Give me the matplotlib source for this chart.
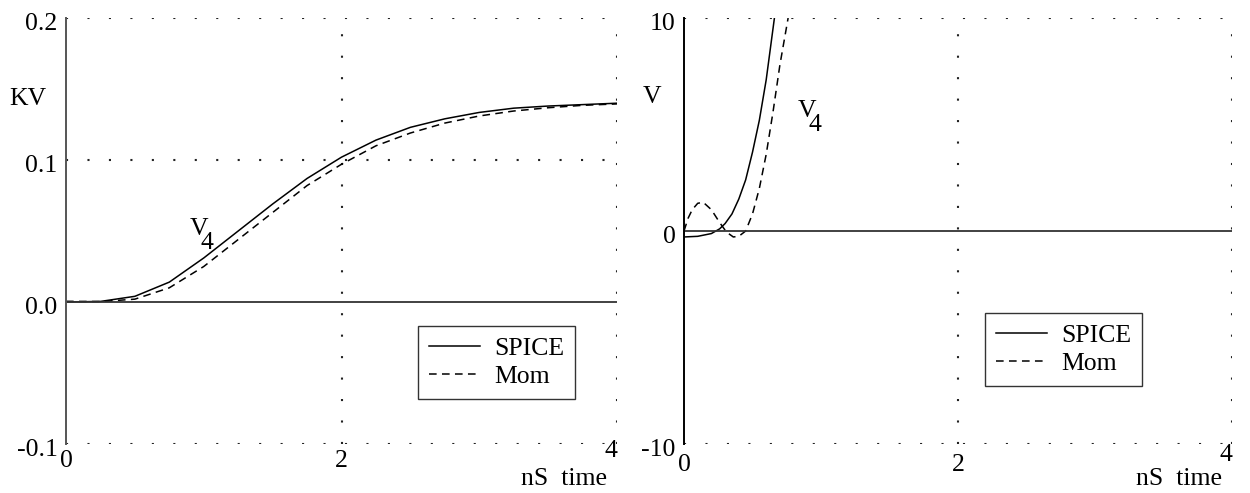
import matplotlib
matplotlib.use("Agg")
import matplotlib.pyplot as plt
from matplotlib.transforms import ScaledTranslation

plt.rcParams['font.family'] = ['Liberation Serif', 'DejaVu Serif']

# ---- data: left panel (KV vs nS) ----
t_left = [0, 0.25, 0.5, 0.75, 1.0, 1.25, 1.5, 1.75, 2.0, 2.25, 2.5, 2.75, 3.0, 3.25, 3.5, 3.75, 4.0]
spice_left = [0.0, 0.0004, 0.004, 0.014, 0.031, 0.050, 0.069, 0.087, 0.102, 0.114, 0.123, 0.129, 0.1335, 0.1365, 0.138, 0.139, 0.140]
mom_left = [0.0005, 0.0003, 0.002, 0.010, 0.025, 0.044, 0.063, 0.082, 0.097, 0.110, 0.119, 0.126, 0.131, 0.1345, 0.1368, 0.1385, 0.1395]

# ---- data: right panel (V vs nS) ----
t_spice_right = [0, 0.1, 0.2, 0.26, 0.3, 0.35, 0.4, 0.45, 0.5, 0.55, 0.6, 0.66]
spice_right = [-0.28, -0.25, -0.12, 0.1, 0.35, 0.8, 1.5, 2.4, 3.7, 5.2, 7.1, 10.0]
t_mom_right = [0, 0.03, 0.06, 0.1, 0.14, 0.2, 0.26, 0.31, 0.36, 0.4, 0.45, 0.5, 0.55, 0.6, 0.65, 0.7, 0.76]
mom_right = [0.0, 0.6, 1.0, 1.3, 1.35, 1.0, 0.4, -0.05, -0.28, -0.25, 0.0, 0.8, 2.0, 3.6, 5.6, 7.8, 10.0]

x_ticks = [0, 2, 4]
x_ticklabels = ['0', '2', '4']
left_yticks = [-0.1, 0.0, 0.1, 0.2]
left_yticklabels = ['-0.1', '0.0', '0.1', '0.2']
right_yticks = [-10, 0, 10]
right_yticklabels = ['-10', '0', '10']
legend_labels = ['SPICE', 'Mom']

FS = 18.5
fig = plt.figure(figsize=(12.5, 4.93), dpi=100)

def shift(txt, dx_px, dy_px):
    txt.set_transform(txt.get_transform() + ScaledTranslation(dx_px / 100, dy_px / 100, fig.dpi_scale_trans))

def setup(ax, ylim, yticks, yticklabels, hgrid, ylab, ylab_pos, leg_anchor, spine_col, xpad):
    ax.set_xlim(0, 4)
    ax.set_ylim(*ylim)
    for s in ['top', 'right', 'bottom']:
        ax.spines[s].set_visible(False)
    ax.spines['left'].set_color(spine_col)
    ax.spines['left'].set_linewidth(1.4)
    dot = (0, (1, 9.3))
    for y in hgrid:
        ax.axhline(y, color='#222222', lw=1.5, ls=dot, zorder=1)
    for x in [2, 4]:
        ax.axvline(x, color='#222222', lw=1.5, ls=dot, zorder=1)
    ax.axhline(0, color='#333333', lw=1.3, zorder=2)
    ax.set_xticks(x_ticks)
    ax.set_xticklabels(x_ticklabels, fontsize=FS)
    ax.set_yticks(yticks)
    ax.set_yticklabels(yticklabels, fontsize=FS)
    ax.tick_params(axis='both', length=0)
    ax.tick_params(axis='x', pad=xpad)
    ax.tick_params(axis='y', pad=6)
    for lab in ax.get_yticklabels():
        shift(lab, 0, -3.5)
    shift(ax.get_xticklabels()[-1], -6, 10)
    ax.text(ylab_pos[0], ylab_pos[1], ylab, transform=ax.transAxes, fontsize=FS,
            ha='center', va='center')
    ax.text(0.982, -0.082, 'nS  time', transform=ax.transAxes, fontsize=FS,
            ha='right', va='center')
    leg = ax.legend(legend_labels, loc='lower left', bbox_to_anchor=leg_anchor,
                    fontsize=FS, frameon=True, fancybox=False, edgecolor='black',
                    handlelength=2.0, handletextpad=0.55, labelspacing=0.2,
                    borderpad=0.42, borderaxespad=0)
    leg.get_frame().set_linewidth(1.0)

def v4(ax, x, y):
    ax.text(x, y, 'V', fontsize=FS, ha='center', va='center')
    ax.annotate('4', (x, y), xytext=(5.5, -10), textcoords='offset points',
                fontsize=FS, ha='center', va='center')

axL = fig.add_axes([66 / 1250, 49 / 493, 551 / 1250, 426 / 493])
axL.plot(t_left, spice_left, color='black', lw=1.1)
axL.plot(t_left, mom_left, color='black', lw=1.1, ls=(0, (5, 3.5)))
setup(axL, (-0.1, 0.2), left_yticks, left_yticklabels, [0.2, 0.1, -0.1], 'KV',
      (-0.069, 0.81), (0.639, 0.106), '#555555', 4.5)
v4(axL, 0.966, 0.0515)

axR = fig.add_axes([684 / 1250, 49 / 493, 548 / 1250, 426 / 493])
axR.plot(t_spice_right, spice_right, color='black', lw=1.1)
axR.plot(t_mom_right, mom_right, color='black', lw=1.1, ls=(0, (5, 3.5)))
setup(axR, (-10, 10), right_yticks, right_yticklabels, [10, -10], 'V',
      (-0.058, 0.815), (0.549, 0.136), 'black', 7)
v4(axR, 0.898, 5.65)

fig.savefig('out.png', dpi=100)
